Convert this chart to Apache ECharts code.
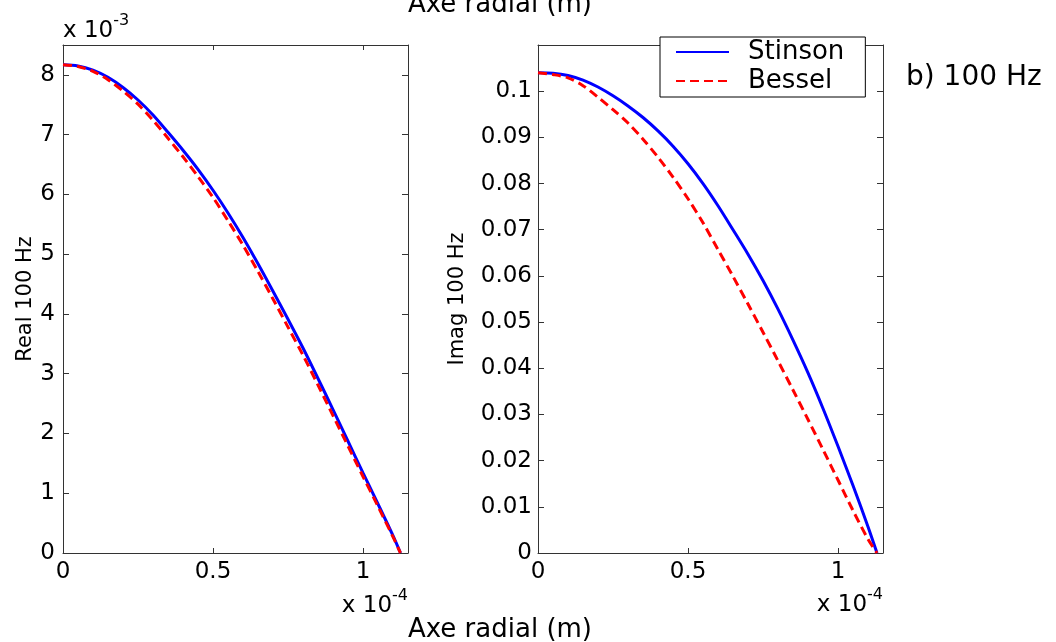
<!DOCTYPE html>
<html>
<head>
<meta charset="utf-8">
<script src="https://cdn.jsdelivr.net/npm/echarts@6/dist/echarts.min.js"></script>
<style>html,body{margin:0;padding:0;background:#fff}#c{width:1056px;height:642px}</style>
</head>
<body>
<div id="c"></div>
<script>
// x values in units of 1e-4 m (as displayed with "x 10^-4")
const xLeft = [0,0.05,0.1,0.15,0.2,0.25,0.3,0.35,0.4,0.45,0.5,0.55,0.6,0.65,0.7,0.75,0.8,0.85,0.9,0.95,1.0,1.05,1.1,1.125];
// Real part in units of 1e-3 (as displayed with "x 10^-3")
const realStinson = [8.17,8.15,8.08,7.96,7.79,7.58,7.33,7.04,6.74,6.42,6.07,5.69,5.28,4.84,4.38,3.91,3.43,2.92,2.40,1.87,1.34,0.82,0.29,0];
const realBessel  = [8.17,8.14,8.06,7.92,7.73,7.51,7.24,6.94,6.63,6.30,5.95,5.56,5.15,4.71,4.25,3.78,3.31,2.81,2.30,1.79,1.28,0.78,0.27,0];
const xRight = [0,0.05,0.1,0.15,0.2,0.25,0.3,0.35,0.4,0.45,0.5,0.55,0.6,0.65,0.7,0.75,0.8,0.85,0.9,0.95,1.0,1.05,1.1,1.13];
const imagStinson = [0.1040,0.1039,0.1034,0.1024,0.1009,0.0990,0.0968,0.0943,0.0914,0.0881,0.0843,0.0800,0.0752,0.0700,0.0647,0.0590,0.0528,0.0461,0.0390,0.0313,0.0231,0.0146,0.0057,0];
const imagBessel  = [0.1040,0.1036,0.1029,0.1012,0.0987,0.0960,0.0931,0.0896,0.0857,0.0814,0.0767,0.0715,0.0657,0.0599,0.0539,0.0478,0.0416,0.0353,0.0289,0.0224,0.0158,0.0092,0.0030,0];
const seriesNames = ['Stinson','Bessel'];
const xTicksLabel = 'x 10';

const FONT = 'DejaVu Sans';
const AX = '#333';
const pairs = (xs, ys) => xs.map((x, i) => [x, ys[i]]);

function xAx(grid, pos, labels) {
  return {
    type: 'value', gridIndex: grid, position: pos, min: 0, max: 1.15, interval: 0.5,
    axisLine: {show: true, onZero: false, lineStyle: {color: AX, width: 1}},
    axisTick: {show: true, inside: true, length: 5, lineStyle: {color: AX}},
    axisLabel: {show: labels, showMaxLabel: false, margin: 8, color: '#000', fontFamily: FONT, fontSize: 23},
    splitLine: {show: false}
  };
}
function yAx(grid, pos, labels, max, interval, name, gap, margin) {
  return {
    type: 'value', gridIndex: grid, position: pos, min: 0, max: max, interval: interval,
    name: name, nameLocation: 'middle', nameGap: gap,
    nameTextStyle: {color: '#000', fontFamily: FONT, fontSize: 21},
    axisLine: {show: true, onZero: false, lineStyle: {color: AX, width: 1}},
    axisTick: {show: true, inside: true, length: 6, lineStyle: {color: AX}},
    axisLabel: {show: labels, showMaxLabel: false, margin: margin, color: '#000', fontFamily: FONT, fontSize: 23},
    splitLine: {show: false}
  };
}
function line(name, xi, yi, data, color, dashed) {
  return {
    name: name, type: 'line', xAxisIndex: xi, yAxisIndex: yi, data: data,
    symbol: 'none', showSymbol: false, smooth: 0.3, z: dashed ? 3 : 2,
    lineStyle: {color: color, width: 3, type: dashed ? [9, 5] : 'solid'},
    itemStyle: {color: color}
  };
}
function supText(x, y, align, base, exp) {
  return {
    type: 'text', x: x, y: y,
    style: {
      text: '{a|' + base + '}{b|' + exp + '}', align: align, verticalAlign: 'bottom',
      rich: {
        a: {fontFamily: FONT, fontSize: 23, fill: '#000', verticalAlign: 'bottom'},
        b: {fontFamily: FONT, fontSize: 16, fill: '#000', verticalAlign: 'bottom', padding: [0, 0, 14, 0]}
      }
    }
  };
}

const chart = echarts.init(document.getElementById('c'), null, {renderer: 'canvas'});
chart.setOption({
  animation: false,
  backgroundColor: '#fff',
  grid: [
    {left: 63, top: 45, width: 345, height: 508},
    {left: 538, top: 45, width: 345, height: 508}
  ],
  xAxis: [xAx(0, 'bottom', true), xAx(0, 'top', false), xAx(1, 'bottom', true), xAx(1, 'top', false)],
  yAxis: [
    yAx(0, 'left', true, 8.5, 1, 'Real 100 Hz', 27, 8),
    yAx(0, 'right', false, 8.5, 1, '', 0, 8),
    yAx(1, 'left', true, 0.11, 0.01, 'Imag 100 Hz', 70, 6),
    yAx(1, 'right', false, 0.11, 0.01, '', 0, 6)
  ],
  legend: {
    orient: 'vertical', left: 660, top: 37, data: seriesNames,
    itemWidth: 53, itemHeight: 14, itemGap: 3,
    padding: [2, 21, 3, 15],
    backgroundColor: '#fff', borderColor: '#000', borderWidth: 1,
    itemStyle: {opacity: 0},
    textStyle: {color: '#000', fontFamily: FONT, fontSize: 26, padding: [0, 0, 0, 14]},
    z: 10
  },
  series: [
    line(seriesNames[0], 0, 0, pairs(xLeft, realStinson), '#0000ff', false),
    line(seriesNames[1], 0, 0, pairs(xLeft, realBessel), '#ff0000', true),
    line(seriesNames[0], 2, 2, pairs(xRight, imagStinson), '#0000ff', false),
    line(seriesNames[1], 2, 2, pairs(xRight, imagBessel), '#ff0000', true)
  ],
  graphic: [
    {type: 'text', x: 500, y: 18, style: {text: 'Axe radial (m)', align: 'center', verticalAlign: 'bottom', fontFamily: FONT, fontSize: 26, fill: '#000'}},
    {type: 'text', x: 500, y: 643, style: {text: 'Axe radial (m)', align: 'center', verticalAlign: 'bottom', fontFamily: FONT, fontSize: 26, fill: '#000'}},
    {type: 'text', x: 906, y: 92, style: {text: 'b) 100 Hz', align: 'left', verticalAlign: 'bottom', fontFamily: FONT, fontSize: 28, fill: '#000'}},
    supText(63, 43, 'left', xTicksLabel, '-3'),
    supText(408, 618, 'right', xTicksLabel, '-4'),
    supText(883, 617, 'right', xTicksLabel, '-4')
  ]
});
</script>
</body>
</html>
